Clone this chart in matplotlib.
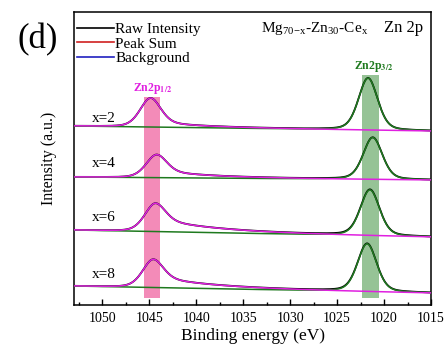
import numpy as np
import matplotlib
matplotlib.use("Agg")
import matplotlib.pyplot as plt
from matplotlib.ticker import MultipleLocator

plt.rcParams['font.family'] = ['Liberation Serif', 'DejaVu Serif']
plt.rcParams['mathtext.fontset'] = 'stix'

# sample labels (top to bottom) and fit parameters
samples = ["x=2", "x=4", "x=6", "x=8"]
label_y = [187, 142, 88, 31]
bg_left = [179, 128, 75, 19]      # background level at 1053 eV
bg_right = [174, 125, 68, 12]     # background level at 1015 eV
p12_center = [1044.9, 1044.3, 1044.5, 1044.7]
p12_height = [27, 20, 22, 23]
p12_tail = [4, 6, 12, 10]         # asymmetric tail of the 2p1/2 component
p32_center = [1021.7, 1021.2, 1021.5, 1021.8]
p32_height = [52, 42, 46, 48]
FWHM_12 = 2.6
FWHM_32 = 2.4
ETA = 0.3

band_12 = (1043.8, 1045.5, 7, 208)
band_32 = (1020.5, 1022.3, 7, 230)

XMIN, XMAX = 1053, 1015

GREEN = "#1f7a1f"
MAGENTA = "#e020e0"


def pvoigt(x, c, h, fwhm):
    s = fwhm / 2.3548
    g = np.exp(-0.5 * ((x - c) / s) ** 2)
    l = 1.0 / (1.0 + ((x - c) / (fwhm / 2)) ** 2)
    return h * ((1 - ETA) * g + ETA * l)


def tail(x, c, a, tau=7.0):
    d = c - x
    step = 0.5 * (1 + np.tanh(d / 1.2))
    return a * step * np.exp(-np.clip(d, 0, None) / tau)


e = np.linspace(XMIN, XMAX, 800)

fig = plt.figure(figsize=(4.44, 3.49), dpi=100)
ax = fig.add_axes([0.1667, 0.126, 0.804, 0.8396])

ax.fill_betweenx([band_12[2], band_12[3]], band_12[0], band_12[1],
                 color="#f06ea6", alpha=0.8, lw=0, zorder=1)
ax.fill_betweenx([band_32[2], band_32[3]], band_32[0], band_32[1],
                 color="#6aaa6a", alpha=0.7, lw=0, zorder=1)

for i, name in enumerate(samples):
    bg = bg_left[i] + (bg_right[i] - bg_left[i]) * (e - XMIN) / (XMAX - XMIN)
    c1 = pvoigt(e, p12_center[i], p12_height[i], FWHM_12) + tail(e, p12_center[i], p12_tail[i])
    c2 = pvoigt(e, p32_center[i], p32_height[i], FWHM_32)
    ax.plot(e, bg + c1 + c2, color="black", lw=1.3, zorder=2)
    ax.plot(e, bg + c2, color=GREEN, lw=1.1, zorder=3)
    ax.plot(e, bg + c1, color=MAGENTA, lw=1.1, zorder=3)
    ax.text(1049.8, label_y[i], name, fontsize=11, ha="center", va="center")

# legend entries (hidden under the fits in the original)
ax.plot([], [], color="black", lw=1.2, label="Raw Intensity")
ax.plot([], [], color="#d02020", lw=1.2, label="Peak Sum")
ax.plot([], [], color="#2020c0", lw=1.2, label="Background")
ax.legend(loc="upper left", frameon=False, fontsize=11, handlelength=2.4,
          handletextpad=0.12, labelspacing=0.07, borderpad=0,
          borderaxespad=0, bbox_to_anchor=(0.008, 0.965))

ax.text(1044.6, 217, r"Zn2p$_{\mathbf{1/2}}$", color=MAGENTA, fontsize=8.5,
        fontweight="bold", ha="center", va="center")
ax.text(1021.1, 239, r"Zn2p$_{\mathbf{3/2}}$", color=GREEN, fontsize=8.5,
        fontweight="bold", ha="center", va="center")
ax.text(1027.35, 277, r"Mg$_{\mathregular{70\mathregular{-}x}}$-Zn$_{\mathregular{30}}$-Ce$_{\mathregular{x}}$",
        fontsize=11, ha="center", va="center")
ax.text(1017.9, 277.5, "Zn 2p", fontsize=12, ha="center", va="center")

ax.set_xlim(XMIN, XMAX)
ax.set_ylim(0, 293)
ax.xaxis.set_major_locator(MultipleLocator(5))
ax.xaxis.set_minor_locator(MultipleLocator(2.5))
ax.tick_params(axis="x", which="major", direction="in", length=4, width=1,
               labelsize=10, pad=5)
ax.tick_params(axis="x", which="minor", direction="in", length=2.5, width=1)
ax.set_yticks([])
ax.set_xlabel("Binding energy (eV)", fontsize=12.5, labelpad=2)
ax.set_ylabel("Intensity (a.u.)", fontsize=11.5, labelpad=12)
for s in ax.spines.values():
    s.set_linewidth(1.1)

fig.text(0.086, 0.885, "(d)", fontsize=25, ha="center", va="center")

fig.savefig("out.png", dpi=100)
